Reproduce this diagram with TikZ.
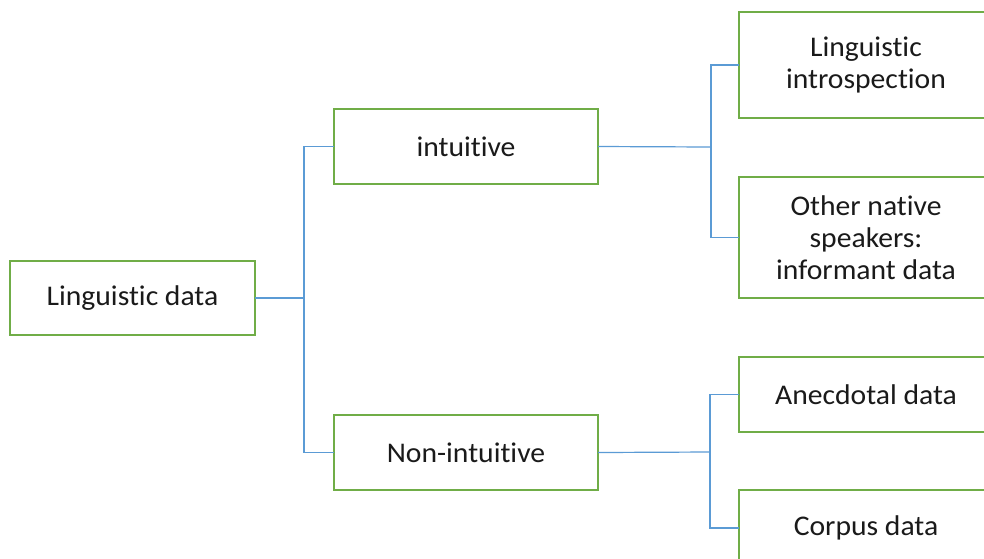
\documentclass[tikz,border=0pt]{standalone}
\usepackage{fontspec}
\setmainfont[Ligatures={NoCommon,NoContextual},FakeStretch=1.04]{Carlito}
\definecolor{boxgreen}{HTML}{70AD47}
\definecolor{linkblue}{HTML}{5B9BD5}
\definecolor{txt}{HTML}{1A1A1A}
\begin{document}
\begin{tikzpicture}[x=1pt,y=-1pt,
  box/.style={draw=boxgreen, line width=1.5pt, fill=white, anchor=north west,
    inner sep=0pt, outer sep=0pt, align=center, text=txt,
    font=\fontsize{28.5}{32}\selectfont},
  link/.style={draw=linkblue, line width=1.2pt}]
\useasboundingbox (0,0) rectangle (984,558);
\clip (0,0) rectangle (984,558);
\fill[white] (0,0) rectangle (984,558);

% root
\node[box, minimum width=245pt, minimum height=74pt] (ld) at (10,261) {Linguistic data};
% second level
\node[box, minimum width=264pt, minimum height=75pt] (int) at (334,109) {intuitive};
\node[box, minimum width=264pt, minimum height=75pt] (non) at (334,415) {Non-intuitive};
% leaves
\node[box, minimum width=254pt, minimum height=106pt] (r1) at (739,12) {Linguistic\\introspection};
\node[box, minimum width=254pt, minimum height=121pt] (r2) at (739,177) {Other native\\speakers:\\informant data};
\node[box, minimum width=254pt, minimum height=75pt] (r3) at (739,357) {Anecdotal data};
\node[box, minimum width=254pt, minimum height=76pt] (r4) at (739,490) {Corpus data};

% branch points
\coordinate (j1) at (304,298);
\coordinate (j2) at (711,147);
\coordinate (j3) at (710,452);

\draw[link] (ld.east) -- (j1);
\draw[link] (int.west) -| (j1) |- (non.west);
\draw[link] (int.east) -- (j2);
\draw[link] (r1.west) -| (j2) |- (r2.west);
\draw[link] (non.east) -- (j3);
\draw[link] (r3.west) -| (j3) |- (r4.west);
\end{tikzpicture}
\end{document}
